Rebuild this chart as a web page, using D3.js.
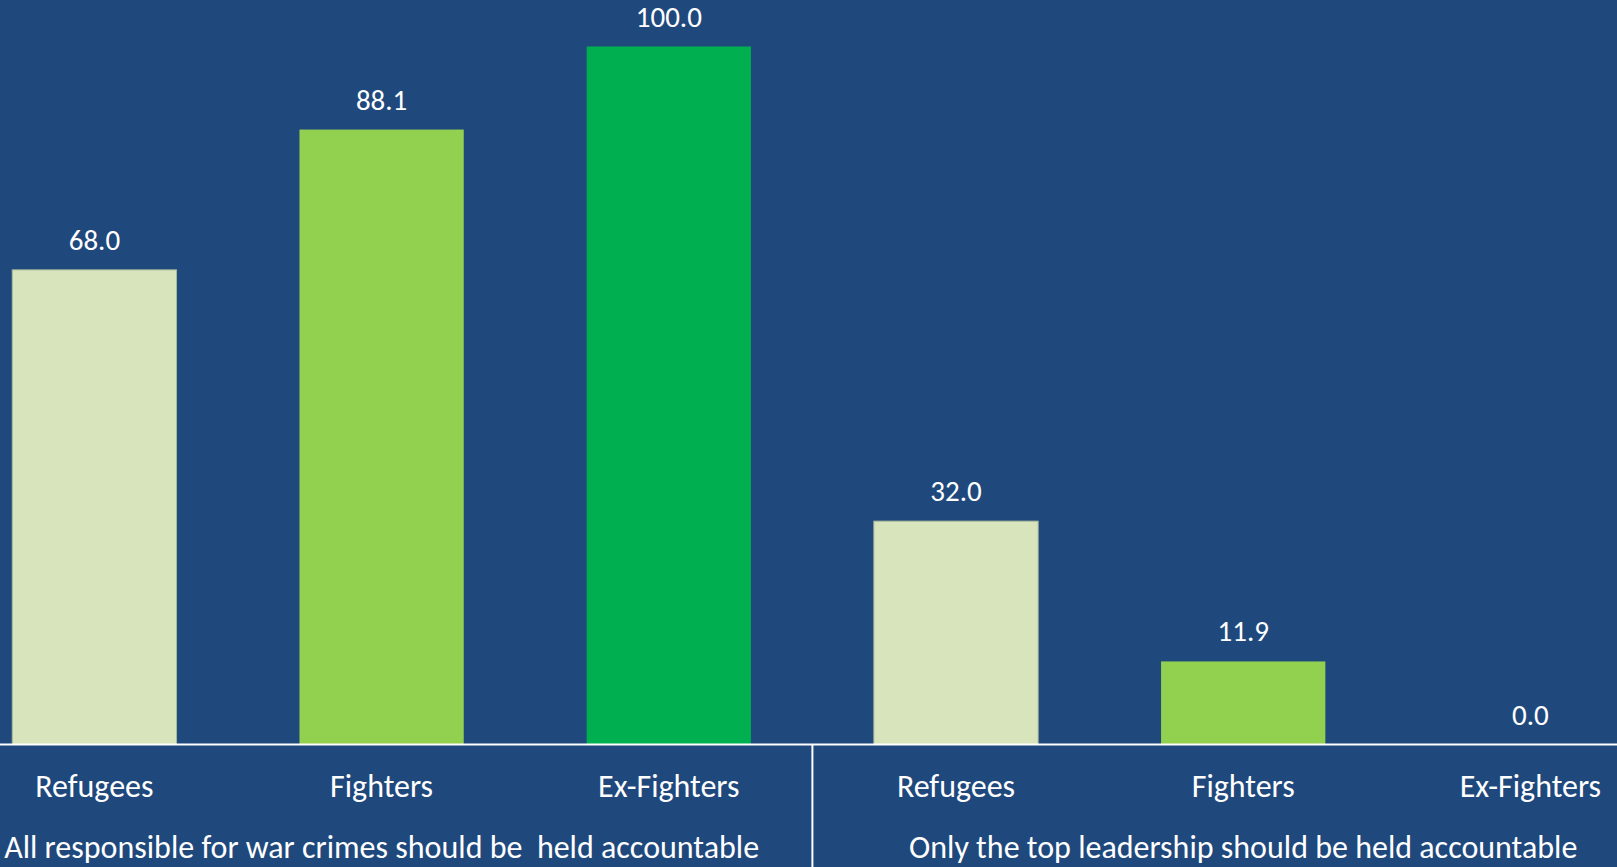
<!DOCTYPE html>
<html>
<head>
<meta charset="utf-8">
<script src="https://cdn.jsdelivr.net/npm/d3@7"></script>
<style>
  html, body { margin: 0; padding: 0; background: #1F497D; overflow: hidden; }
  svg { display: block; }
  text { font-family: Carlito, Calibri, Lato, sans-serif; fill: #FFFFFF; white-space: pre; }
</style>
</head>
<body>
<svg id="chart" width="1617" height="867"></svg>
<script>
// Survey responses on accountability for war crimes (percent)
const groups = [
  "All responsible for war crimes should be  held accountable",
  "Only the top leadership should be held accountable"
];
const categories = ["Refugees", "Fighters", "Ex-Fighters"];
const refugeeValues = [68.0, 32.0];
const fighterValues = [88.1, 11.9];
const exFighterValues = [100.0, 0.0];
const seriesColors = ["#D8E4BC", "#92D050", "#00B050"];

const seriesValues = [refugeeValues, fighterValues, exFighterValues];
const rows = [];
groups.forEach((g, gi) => {
  categories.forEach((c, ci) => {
    rows.push({ key: gi + "|" + c, group: g, groupIndex: gi, category: c, catIndex: ci, value: seriesValues[ci][gi] });
  });
});

const W = 1617, H = 867;
const svg = d3.select("#chart");
svg.append("rect").attr("width", W).attr("height", H).attr("fill", "#1F497D");

const x = d3.scaleBand()
  .domain(rows.map(d => d.key))
  .range([-49.2, 1674])
  .paddingInner(0.428)
  .paddingOuter(0.214);

const y = d3.scaleLinear().domain([0, 100]).range([744.5, 46.5]);

// Bars
svg.append("g").selectAll("rect")
  .data(rows)
  .join("rect")
  .attr("x", d => x(d.key))
  .attr("y", d => y(d.value))
  .attr("width", x.bandwidth())
  .attr("height", d => y(0) - y(d.value))
  .attr("fill", d => seriesColors[d.catIndex])
  .attr("stroke", d => d.catIndex === 0 ? "#A9B89A" : "none")
  .attr("stroke-width", 1);

// Value labels
svg.append("g").selectAll("text")
  .data(rows)
  .join("text")
  .attr("x", d => x(d.key) + x.bandwidth() / 2)
  .attr("y", d => y(d.value) - 20)
  .attr("text-anchor", "middle")
  .attr("font-size", 29)
  .text(d => d3.format(".1f")(d.value));

// Baseline
svg.append("line")
  .attr("x1", 0).attr("x2", W)
  .attr("y1", y(0)).attr("y2", y(0))
  .attr("stroke", "#FFFFFF").attr("stroke-width", 2);

// Divider between the two groups
const step = x.step();
const divX = x(rows[3].key) - step * x.paddingInner() / 2;
svg.append("line")
  .attr("x1", divX).attr("x2", divX)
  .attr("y1", y(0)).attr("y2", H)
  .attr("stroke", "#FFFFFF").attr("stroke-width", 2);

// Category labels
svg.append("g").selectAll("text")
  .data(rows)
  .join("text")
  .attr("x", d => x(d.key) + x.bandwidth() / 2)
  .attr("y", 796.5)
  .attr("text-anchor", "middle")
  .attr("font-size", 32)
  .text(d => d.category);

// Group labels, centred under each group's middle category
svg.append("g").selectAll("text")
  .data(groups)
  .join("text")
  .attr("x", (g, gi) => x(gi + "|" + categories[1]) + x.bandwidth() / 2)
  .attr("y", 858)
  .attr("text-anchor", "middle")
  .attr("font-size", 32)
  .text(g => g);
</script>
</body>
</html>
